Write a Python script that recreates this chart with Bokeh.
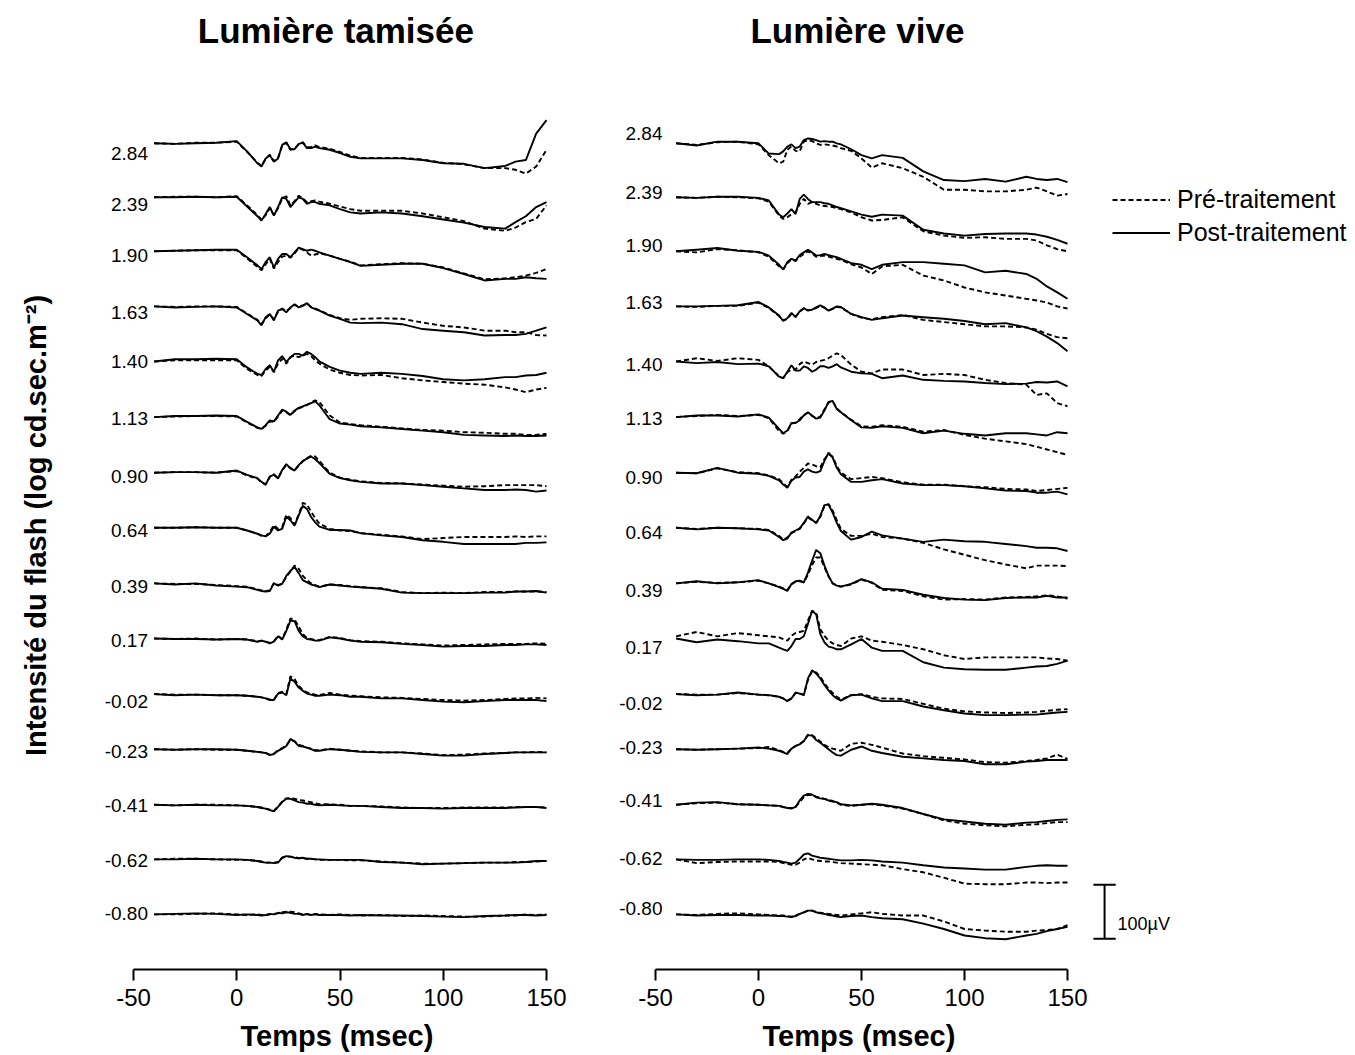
import math
from bokeh.plotting import figure
from bokeh.layouts import row
from bokeh.models import Range1d, FixedTicker, Legend, LegendItem, ColumnDataSource, Title
from bokeh.core.properties import value
from bokeh.embed import file_html
from bokeh.resources import INLINE

# ---------------- data ----------------
# time (ms)
T = [-40, -30, -20, -10, 0, 5, 10, 12, 14, 16, 18, 20, 22, 24, 26, 28, 30, 32, 34, 36,
     38, 40, 45, 50, 55, 60, 70, 80, 90, 100, 110, 120, 130, 135, 140, 145, 150]

intensities = ["2.84", "2.39", "1.90", "1.63", "1.40", "1.13", "0.90", "0.64", "0.39",
               "0.17", "-0.02", "-0.23", "-0.41", "-0.62", "-0.80"]

# vertical stacking level of each trace (µV)
offsets = [1530, 1430, 1330, 1228, 1126, 1023, 920, 818, 715, 613, 510, 408, 305, 204, 102]

# ---- Lumière tamisée (µV, relative to trace start) ----
tam_284_pre = [0,-1,1,1,3,-16,-36,-42,-29,-21,-33,-27,-4,1,-12,-10,-2,2,-7,-7,-4,-7,-10,-16,-23,-27,-27,-27,-30,-36,-39,-46,-46,-49,-56,-43,-12]
tam_284_post = [0,-1,0,1,4,-15,-37,-43,-28,-22,-34,-28,-3,2,-11,-11,-1,1,-9,-9,-6,-9,-12,-18,-25,-28,-28,-28,-31,-37,-38,-46,-42,-34,-31,18,43]
tam_239_pre = [0,1,1,0,2,-15,-33,-42,-33,-20,-33,-20,-2,2,-15,-7,3,-2,-9,-7,-6,-8,-12,-17,-22,-25,-25,-25,-30,-37,-44,-58,-62,-56,-46,-40,-15]
tam_239_post = [0,0,1,0,1,-17,-35,-43,-31,-18,-34,-18,0,-3,-18,-9,0,-3,-12,-9,-9,-12,-15,-22,-28,-30,-28,-30,-35,-41,-47,-55,-58,-46,-35,-18,-9]
tam_190_pre = [0,1,2,2,2,-13,-29,-35,-24,-14,-32,-20,-10,-8,-12,-4,5,3,-2,-8,-6,-4,-8,-14,-19,-26,-24,-22,-23,-30,-41,-52,-50,-48,-45,-40,-33]
tam_190_post = [0,1,2,3,3,-11,-26,-33,-20,-11,-30,-14,-5,-5,-11,-2,7,4,1,3,1,-2,-8,-14,-20,-27,-25,-23,-23,-31,-42,-54,-51,-51,-48,-50,-51]
tam_163_pre = [0,-1,0,0,-1,-13,-25,-33,-22,-15,-24,-10,-4,-9,-3,3,-1,2,5,-1,-4,-7,-16,-22,-25,-23,-22,-23,-30,-36,-39,-45,-45,-48,-48,-53,-54]
tam_163_post = [0,-2,-1,0,-2,-14,-26,-35,-20,-14,-26,-8,-5,-11,-2,4,-2,1,6,-2,-5,-8,-17,-23,-30,-31,-30,-33,-42,-45,-48,-54,-53,-53,-51,-45,-39]
tam_140_pre = [0,2,2,2,2,-14,-25,-27,-17,-10,-20,-4,5,-4,8,11,8,11,14,10,2,-4,-15,-21,-25,-26,-25,-31,-35,-38,-41,-43,-48,-52,-57,-52,-49]
tam_140_post = [0,4,4,5,4,-11,-23,-25,-14,-7,-19,2,10,-1,8,14,14,11,18,14,8,0,-10,-17,-21,-23,-21,-23,-27,-33,-35,-33,-29,-29,-26,-25,-21]
tam_113_pre = [0,1,2,2,1,-10,-20,-22,-16,-8,-9,1,12,9,3,11,16,19,22,27,31,28,3,-10,-13,-15,-18,-21,-24,-25,-28,-29,-31,-31,-33,-33,-31]
tam_113_post = [0,2,2,3,2,-9,-19,-22,-15,-6,-8,3,14,10,4,12,17,20,23,26,29,22,-4,-12,-14,-17,-19,-22,-25,-28,-33,-34,-35,-34,-35,-35,-34]
tam_090_pre = [0,1,1,0,3,-5,-11,-18,-22,-8,-3,-10,4,14,9,5,13,21,27,31,30,22,0,-9,-13,-16,-19,-20,-22,-24,-26,-25,-23,-23,-23,-23,-25]
tam_090_post = [0,1,1,0,4,-4,-10,-17,-22,-7,-4,-11,5,16,8,4,14,22,26,30,25,18,-2,-10,-14,-17,-20,-20,-23,-26,-29,-32,-32,-31,-32,-35,-33]
tam_064_pre = [0,0,1,0,0,-5,-11,-15,-15,-8,5,-2,1,24,18,6,25,46,43,30,18,8,-2,-5,-6,-10,-13,-16,-21,-19,-17,-17,-17,-16,-17,-16,-16]
tam_064_post = [0,0,1,0,0,-5,-11,-14,-16,-11,2,-5,-2,21,14,4,23,41,35,20,10,2,-4,-4,-5,-10,-14,-17,-23,-26,-30,-30,-30,-30,-28,-28,-27]
tam_039_pre = [0,-1,-1,-3,-5,-6,-11,-13,-14,-13,1,-3,0,12,22,33,27,14,6,0,-3,-6,-2,-3,-5,-7,-9,-16,-18,-17,-18,-16,-16,-15,-15,-15,-16]
tam_039_post = [0,-2,0,-4,-6,-7,-12,-14,-15,-14,0,-4,-1,14,23,31,19,6,2,-2,-4,-7,-2,-4,-6,-7,-10,-17,-18,-18,-18,-17,-17,-15,-15,-14,-17]
tam_017_pre = [0,-1,0,-2,-1,-2,-5,-4,-6,-8,-5,5,-1,16,37,35,22,8,1,-1,-3,-3,3,1,-3,-5,-6,-9,-11,-13,-12,-11,-10,-10,-10,-9,-10]
tam_017_post = [0,-1,-1,-2,-1,-2,-6,-4,-6,-9,-6,4,-2,14,33,32,14,4,-1,-2,-4,-4,2,0,-4,-6,-7,-10,-12,-15,-14,-14,-12,-12,-11,-11,-12]
tam_m002_pre = [0,-1,-1,-2,-2,-3,-5,-6,-8,-10,-10,2,4,0,33,28,15,8,3,1,-1,-2,2,-1,-3,-4,-6,-7,-9,-11,-12,-11,-9,-8,-8,-7,-8]
tam_m002_post = [0,-2,-1,-2,-2,-3,-5,-6,-8,-11,-11,1,3,-2,29,23,12,6,1,-1,-3,-3,-1,-2,-5,-5,-8,-8,-11,-14,-15,-13,-11,-11,-11,-11,-13]
tam_m023_pre = [0,-1,0,-1,-1,-3,-5,-6,-7,-10,-8,-2,2,7,17,15,8,6,3,1,-2,-2,1,-1,-3,-4,-6,-6,-8,-11,-10,-8,-7,-6,-6,-5,-6]
tam_m023_post = [0,-1,0,0,-1,-3,-5,-6,-7,-11,-9,-3,1,6,19,14,6,5,3,0,-3,-3,0,-1,-3,-5,-6,-6,-9,-12,-12,-9,-7,-6,-6,-6,-6]
tam_m041_pre = [0,-1,0,0,-1,-2,-4,-5,-7,-9,-11,-3,6,12,13,11,9,8,6,5,3,1,1,0,-2,-2,-3,-5,-6,-6,-5,-5,-5,-4,-4,-4,-5]
tam_m041_post = [0,-1,0,-1,-1,-2,-4,-6,-7,-10,-12,-4,5,11,11,8,5,4,2,2,0,-1,0,-1,-2,-2,-4,-6,-6,-7,-6,-6,-6,-5,-4,-4,-6]
tam_m062_pre = [0,1,1,0,-1,-1,-3,-4,-6,-6,-6,-5,3,5,5,4,2,2,1,1,0,-1,-1,-1,-2,-2,-4,-6,-8,-8,-7,-6,-6,-5,-5,-4,-3]
tam_m062_post = [0,0,1,0,0,-1,-3,-5,-6,-6,-7,-6,3,6,5,3,2,3,1,1,0,0,-1,-1,-1,-1,-5,-6,-9,-8,-7,-6,-6,-6,-5,-3,-3]
tam_m080_pre = [0,0,1,2,0,-1,0,-1,-2,0,1,2,4,5,5,4,2,0,0,-1,1,0,-1,0,-1,-2,-1,-3,-2,-3,-4,-4,-2,-2,0,-1,0]
tam_m080_post = [0,1,2,1,-1,0,-1,-2,-1,1,0,3,2,4,3,1,1,-1,1,-1,0,-1,-1,-1,-2,-1,-2,-2,-3,-4,-5,-3,-2,-1,-1,-2,-1]

# ---- Lumière vive ----
viv_284_pre = [0,-3,2,3,-2,-22,-37,-34,-12,-6,-14,-15,3,6,4,0,-3,-2,-3,-4,-6,-9,-14,-28,-45,-37,-46,-62,-86,-86,-89,-89,-86,-82,-89,-97,-94]
viv_284_post = [0,-4,3,3,0,-19,-20,-15,-6,-2,-9,-6,6,9,8,6,3,4,3,3,0,-2,-11,-22,-28,-22,-27,-52,-68,-70,-66,-71,-62,-66,-68,-66,-72]
viv_239_pre = [0,-1,1,0,-2,-8,-34,-40,-37,-31,-28,-12,-3,-12,-9,-12,-15,-16,-17,-18,-20,-22,-28,-37,-43,-42,-37,-63,-71,-75,-74,-77,-77,-80,-89,-96,-100]
viv_239_post = [0,-1,1,1,-1,-6,-32,-37,-30,-22,-31,-3,5,-3,-9,-9,-9,-11,-12,-15,-18,-20,-26,-32,-36,-32,-34,-60,-67,-71,-68,-67,-67,-69,-73,-79,-86]
viv_190_pre = [0,-2,4,2,-2,-10,-28,-33,-22,-15,-18,-10,-5,0,-4,-10,-9,-8,-10,-12,-14,-16,-24,-30,-42,-28,-25,-45,-54,-67,-76,-82,-88,-91,-95,-102,-106]
viv_190_post = [0,3,6,1,-1,-8,-25,-34,-20,-14,-17,-7,-2,3,-2,-8,-7,-5,-7,-9,-11,-14,-22,-25,-33,-25,-20,-20,-23,-26,-39,-36,-42,-51,-65,-76,-88]
viv_163_pre = [0,-1,1,1,7,-3,-18,-26,-23,-14,-19,-10,-4,-7,-7,-3,1,-3,-7,-5,-1,-2,-14,-21,-24,-20,-16,-25,-29,-33,-37,-37,-39,-43,-51,-57,-59]
viv_163_post = [0,0,1,2,8,-2,-17,-27,-22,-12,-20,-9,-3,-8,-6,-2,2,-2,-8,-4,0,-1,-14,-20,-25,-22,-17,-20,-23,-27,-33,-31,-39,-46,-56,-68,-83]
viv_140_pre = [0,6,1,6,3,-9,-28,-31,-20,-15,-15,-5,0,-3,-6,-1,1,3,6,11,15,12,-6,-19,-22,-15,-15,-25,-23,-25,-34,-40,-43,-62,-59,-77,-83]
viv_140_post = [0,-3,-1,-5,-4,-9,-28,-31,-19,-7,-17,-17,-9,-12,-19,-15,-9,-9,-12,-9,-5,-11,-19,-22,-23,-31,-26,-34,-36,-37,-40,-42,-41,-38,-39,-37,-46]
viv_113_pre = [0,2,4,2,4,-2,-26,-31,-26,-12,-10,-4,4,8,2,-2,1,14,27,29,16,9,-5,-17,-18,-15,-18,-27,-24,-33,-40,-45,-50,-55,-60,-65,-70]
viv_113_post = [0,3,3,1,5,-1,-22,-30,-25,-11,-11,-6,3,9,3,-3,-1,12,28,30,15,9,-6,-19,-20,-17,-20,-30,-25,-31,-34,-30,-30,-32,-34,-28,-30]
viv_090_pre = [0,-1,8,1,-1,-5,-12,-20,-26,-13,-7,2,9,17,15,12,10,25,34,30,12,0,-12,-10,-8,-10,-18,-22,-22,-25,-27,-30,-31,-34,-32,-30,-28]
viv_090_post = [0,-1,9,0,-2,-6,-14,-22,-28,-15,-9,-8,2,6,2,0,3,22,37,28,9,-3,-17,-17,-14,-12,-20,-23,-23,-25,-29,-33,-34,-37,-37,-35,-40]
viv_064_pre = [0,-2,0,-1,-2,-4,-15,-22,-18,-10,-6,-2,8,19,14,9,20,40,44,32,14,-2,-15,-15,-11,-17,-20,-28,-40,-50,-60,-68,-75,-70,-70,-70,-71]
viv_064_post = [0,-3,0,-1,-3,-5,-17,-23,-20,-9,-5,-1,9,21,15,9,22,42,43,28,9,-6,-22,-17,-7,-14,-20,-26,-22,-25,-26,-30,-34,-37,-37,-38,-43]
viv_039_pre = [0,3,1,2,5,0,-6,-9,-12,-2,3,4,2,16,34,48,48,30,13,0,-4,-6,-2,7,1,-12,-14,-24,-30,-29,-30,-26,-25,-24,-22,-24,-28]
viv_039_post = [0,4,0,2,6,0,-7,-10,-14,-1,4,5,2,20,42,62,56,33,14,0,-4,-6,-1,8,2,-10,-12,-21,-27,-30,-31,-27,-26,-26,-23,-26,-26]
viv_017_pre = [4,12,4,10,6,4,2,-1,-4,5,10,12,14,33,51,48,17,5,-4,-9,-12,-14,0,4,-4,-6,-12,-20,-31,-38,-35,-35,-35,-35,-37,-38,-41]
viv_017_post = [0,-7,-2,-5,-9,-9,-17,-20,-23,-14,-1,-1,4,27,51,45,8,-7,-15,-17,-20,-20,-11,-1,-17,-23,-23,-44,-54,-57,-58,-58,-54,-52,-51,-47,-41]
viv_m002_pre = [0,-1,-1,2,-1,-2,-5,-8,-12,-8,2,1,-1,26,42,40,32,20,10,2,-5,-10,-2,0,-5,-8,-9,-18,-27,-32,-34,-35,-34,-33,-31,-29,-28]
viv_m002_post = [0,-2,-1,3,-1,-2,-5,-8,-13,-8,3,1,-2,29,44,38,29,17,7,-2,-8,-12,-2,-1,-8,-13,-13,-23,-30,-36,-39,-39,-38,-38,-36,-34,-33]
viv_m023_pre = [0,-1,0,1,2,4,-2,-5,-7,1,6,9,15,27,26,20,14,8,4,1,-1,-3,10,12,8,3,-8,-13,-16,-19,-24,-25,-22,-20,-17,-10,-18]
viv_m023_post = [0,-1,0,1,3,1,-3,-6,-9,1,6,9,15,26,25,17,12,6,0,-6,-11,-12,-1,5,-3,-7,-14,-17,-20,-22,-28,-28,-23,-22,-20,-20,-20]
viv_m041_pre = [0,3,4,1,0,-1,-2,-4,-6,-6,-4,5,14,18,18,15,13,11,9,7,4,0,-2,0,1,-1,-7,-17,-29,-35,-38,-40,-37,-36,-34,-32,-32]
viv_m041_post = [0,4,5,1,0,-1,-2,-4,-6,-7,-4,8,17,20,19,14,12,11,8,6,5,1,-1,0,2,0,-6,-17,-27,-31,-35,-37,-33,-32,-30,-28,-27]
viv_m062_pre = [0,-7,-5,-4,-4,-4,-5,-7,-8,-10,-10,-6,0,3,0,-2,-3,-4,-4,-5,-6,-7,-8,-9,-10,-11,-18,-24,-34,-45,-46,-46,-43,-43,-44,-43,-43]
viv_m062_post = [0,-1,-1,0,0,-1,-3,-5,-6,-8,-6,1,9,11,7,5,3,2,1,0,-1,-2,-2,-1,-2,-4,-6,-11,-15,-17,-19,-19,-14,-12,-11,-12,-12]
viv_m080_pre = [0,-1,1,2,0,-1,-2,-2,-3,-4,-2,1,4,7,7,5,3,2,1,0,-1,-2,0,2,4,1,-2,-2,-13,-27,-30,-32,-32,-30,-29,-27,-20]
viv_m080_post = [0,-2,-1,-1,-2,-2,-3,-3,-4,-5,-3,1,4,7,7,4,2,1,-1,-2,-4,-5,-3,-2,-5,-7,-9,-17,-27,-39,-44,-46,-39,-36,-31,-27,-23]

tam_pre = [tam_284_pre, tam_239_pre, tam_190_pre, tam_163_pre, tam_140_pre, tam_113_pre, tam_090_pre,
           tam_064_pre, tam_039_pre, tam_017_pre, tam_m002_pre, tam_m023_pre, tam_m041_pre, tam_m062_pre, tam_m080_pre]
tam_post = [tam_284_post, tam_239_post, tam_190_post, tam_163_post, tam_140_post, tam_113_post, tam_090_post,
            tam_064_post, tam_039_post, tam_017_post, tam_m002_post, tam_m023_post, tam_m041_post, tam_m062_post, tam_m080_post]
viv_pre = [viv_284_pre, viv_239_pre, viv_190_pre, viv_163_pre, viv_140_pre, viv_113_pre, viv_090_pre,
           viv_064_pre, viv_039_pre, viv_017_pre, viv_m002_pre, viv_m023_pre, viv_m041_pre, viv_m062_pre, viv_m080_pre]
viv_post = [viv_284_post, viv_239_post, viv_190_post, viv_163_post, viv_140_post, viv_113_post, viv_090_post,
            viv_064_post, viv_039_post, viv_017_post, viv_m002_post, viv_m023_post, viv_m041_post, viv_m062_post, viv_m080_post]

scale_bar_uv = 100

# ---------------- layout / style ----------------
FONT = "Liberation Sans"
UV_PER_PX = 100 / 54.0
FRAME_H = 969
Y_TOP = FRAME_H * UV_PER_PX
LW = 1.9

tam_label_y = [1511, 1417, 1322, 1217, 1126, 1020, 913, 813, 709, 609, 496, 404, 304, 202, 104]
viv_label_y = [1548, 1439, 1341, 1235, 1120, 1020, 911, 809, 702, 596, 493, 411, 313, 206, 113]


def make_fig(frame_w, bl, br, x_start, x_end, xlabel_offset):
    p = figure(frame_width=frame_w, frame_height=FRAME_H,
               x_range=Range1d(x_start, x_end), y_range=Range1d(0, Y_TOP),
               output_backend="svg", toolbar_location=None, y_axis_location=None,
               min_border_left=bl, min_border_right=br, min_border_top=0, min_border_bottom=0)
    p.outline_line_color = None
    p.xgrid.visible = False
    p.ygrid.visible = False
    p.background_fill_color = "white"
    p.border_fill_color = "white"
    ax = p.xaxis[0]
    ax.ticker = FixedTicker(ticks=[-50, 0, 50, 100, 150])
    ax.major_label_overrides = {-50: "-50"}
    ax.bounds = (-50, 150)
    ax.axis_line_width = 2
    ax.axis_line_color = "black"
    ax.major_tick_line_width = 2
    ax.major_tick_line_color = "black"
    ax.major_tick_out = 11
    ax.major_tick_in = 0
    ax.minor_tick_line_color = None
    ax.major_label_text_font = FONT
    ax.major_label_text_font_size = "24px"
    ax.major_label_text_color = "black"
    ax.major_label_standoff = 8
    p.add_layout(Title(text="Temps (msec)", align="left", offset=xlabel_offset,
                       text_font=FONT, text_font_style="bold", text_font_size="29px",
                       text_color="black", standoff=18), "below")
    return p


def draw(p, pre_list, post_list, label_x, label_y, title, title_x):
    r_pre = r_post = None
    for off, pre, post in zip(offsets, pre_list, post_list):
        assert len(pre) == len(T) and len(post) == len(T)
        src = ColumnDataSource(dict(t=T, pre=[off + v for v in pre], post=[off + v for v in post]))
        r_pre = p.line("t", "pre", source=src, line_color="black", line_width=LW, line_dash="5 3")
        r_post = p.line("t", "post", source=src, line_color="black", line_width=LW)
    p.text(x=[label_x] * len(intensities), y=label_y, text=intensities, text_align="right",
           text_baseline="middle", text_font=value(FONT), text_font_size="19px", text_color="black")
    p.text(x=[title_x], y=[(FRAME_H - 30) * UV_PER_PX], text=[title], text_align="center",
           text_baseline="middle", text_font=value(FONT), text_font_style="bold",
           text_font_size="35px", text_color="black")
    return r_pre, r_post


# y title strip (px 0..70)
p0 = figure(frame_width=70, frame_height=FRAME_H, x_range=Range1d(0, 70), y_range=Range1d(0, Y_TOP),
            output_backend="svg", toolbar_location=None, x_axis_location=None, y_axis_location=None,
            min_border_left=0, min_border_right=0, min_border_top=0, min_border_bottom=86)
p0.outline_line_color = None
p0.xgrid.visible = False
p0.ygrid.visible = False
p0.text(x=[35], y=[(FRAME_H - 525) * UV_PER_PX], text=["Intensité du flash (log cd.sec.m⁻²)"],
        angle=math.pi / 2, text_align="center", text_baseline="middle", text_font=value(FONT),
        text_font_style="bold", text_font_size="29px", text_color="black")

# left panel: frame from px 100 to 560
SX1 = 2.065
p1 = make_fig(460, 30, 40, -50 - 33 / SX1, -50 + 460 / SX1 - 33 / SX1, 140)
draw(p1, tam_pre, tam_post, -43, tam_label_y, "Lumière tamisée", 48)

# right panel: frame from px 615 to 1350
SX2 = 2.06
p2 = make_fig(735, 15, 5, -50 - 40 / SX2, -50 + 695 / SX2, 147)
r_pre, r_post = draw(p2, viv_pre, viv_post, -46.6, viv_label_y, "Lumière vive", 48)

legend = Legend(items=[LegendItem(label="Pré-traitement", renderers=[r_pre]),
                       LegendItem(label="Post-traitement", renderers=[r_post])],
                location=(497, 722), border_line_color=None, background_fill_alpha=0,
                padding=0, margin=0, spacing=4, glyph_width=58, glyph_height=25,
                label_height=25, label_standoff=7, label_text_font=FONT,
                label_text_font_size="25px", label_text_color="black")
p2.add_layout(legend)

# 100 µV scale bar
bar_x, bar_y0 = 168, 57
p2.segment(x0=[bar_x, bar_x - 5.4, bar_x - 5.4], y0=[bar_y0, bar_y0, bar_y0 + scale_bar_uv],
           x1=[bar_x, bar_x + 5.4, bar_x + 5.4], y1=[bar_y0 + scale_bar_uv, bar_y0, bar_y0 + scale_bar_uv],
           line_color="black", line_width=2)
p2.text(x=[bar_x + 6.3], y=[bar_y0 + 28], text=[f"{scale_bar_uv}µV"], text_align="left",
        text_baseline="middle", text_font=value(FONT), text_font_size="18px", text_color="black")

layout = row(p0, p1, p2)
open("out.html", "w").write(file_html(layout, INLINE))
